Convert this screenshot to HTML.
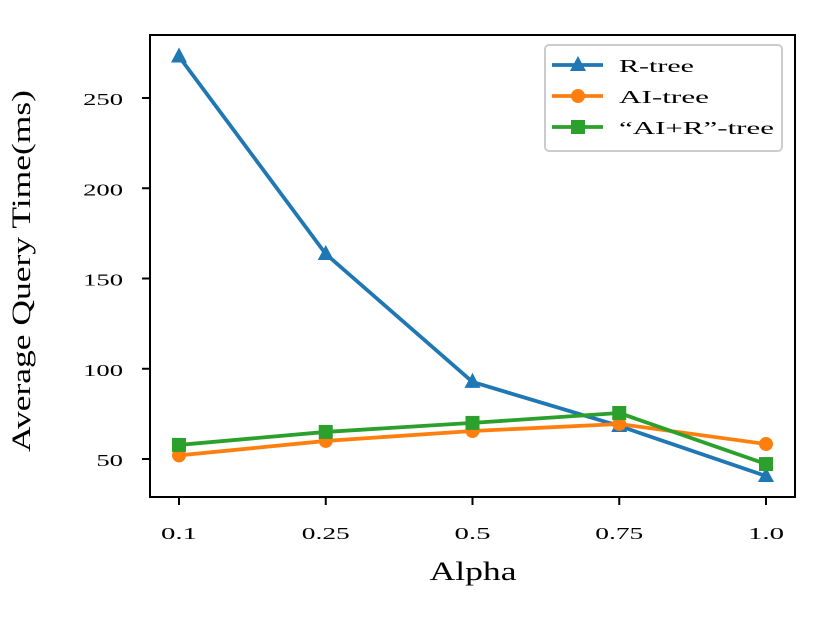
<!DOCTYPE html>
<html><head><meta charset="utf-8"><style>
body{margin:0;background:#fff;}
text{font-family:"Liberation Serif","DejaVu Serif",serif;fill:#000;}
</style></head><body>
<svg id="chart" width="831" height="623" xmlns="http://www.w3.org/2000/svg">
<rect x="0" y="0" width="831" height="623" fill="#fff"/>
<g id="plot"></g>
</svg>
<script>
const categories = ["0.1","0.25","0.5","0.75","1.0"];
const rTree = [273, 163.6, 92.7, 68.3, 40.6];
const aiTree = [52, 60, 65.5, 69.4, 58.3];
const aiRTree = [57.8, 65, 70, 75.5, 47.2];
const yTicks = [50, 100, 150, 200, 250];

const NS = "http://www.w3.org/2000/svg";
const g = document.getElementById('plot');
const L = 150, R = 795, T = 35, B = 497;
const xPos = i => 179 + i * (766 - 179) / (categories.length - 1);
const yPos = v => 459 - (v - 50) * 1.805;
function mk(tag, attrs, parent) {
  const e = document.createElementNS(NS, tag);
  for (const k in attrs) e.setAttribute(k, attrs[k]);
  (parent || g).appendChild(e);
  return e;
}
function fit(e, perChar) {
  e.setAttribute('textLength', e.textContent.length * perChar);
  e.setAttribute('lengthAdjust', 'spacingAndGlyphs');
}
categories.forEach((c, i) => {
  const x = xPos(i);
  const t = mk('line', {x1:x, x2:x, y1:B, y2:B+8, stroke:'#000', 'stroke-width':2});
  
  
  const lb = mk('text', {x:x, y:539, 'text-anchor':'middle', 'font-size':17});
  lb.textContent = c;
  fit(lb, 12);
  
  
});
yTicks.forEach(v => {
  const y = yPos(v);
  const t = mk('line', {x1:L-8, x2:L, y1:y, y2:y, stroke:'#000', 'stroke-width':2});
  
  
  const lb = mk('text', {x:123, y:y+7, 'text-anchor':'end', 'font-size':17});
  lb.textContent = v;
  fit(lb, 13.3);
  
  
});
const series = [
  {name:'r-tree', data:rTree, color:'#1f77b4', marker:'tri'},
  {name:'ai-tree', data:aiTree, color:'#ff7f0e', marker:'circ'},
  {name:'ai-r-tree', data:aiRTree, color:'#2ca02c', marker:'sq'}
];
function marker(type, x, y, color) {
  let e;
  if (type === 'tri') e = mk('polygon', {points:`${x},${y-9} ${x-8},${y+6} ${x+8},${y+6}`, fill:color});
  else if (type === 'circ') e = mk('circle', {cx:x, cy:y, r:7, fill:color});
  else e = mk('rect', {x:x-7, y:y-7, width:14, height:14, fill:color});
  return e;
}
series.forEach(s => {
  const pts = s.data.map((v, i) => xPos(i) + ',' + yPos(v)).join(' ');
  const pl = mk('polyline', {points:pts, fill:'none', stroke:s.color, 'stroke-width':3.8, 'stroke-linejoin':'round'});
  
  
  s.data.forEach((v, i) => {
    const m = marker(s.marker, xPos(i), yPos(v), s.color);
    
    
  });
});
const frame = mk('rect', {x:L, y:T, width:R-L, height:B-T, fill:'none', stroke:'#000', 'stroke-width':2});


const lg = mk('g', {});


mk('rect', {x:545, y:45, width:237, height:106, rx:4, fill:'#fff', stroke:'#ccc', 'stroke-width':2}, lg);
const labels = ['R-tree', 'AI-tree', '\u201CAI+R\u201D-tree'];
const lens = [75, 90, 155];
series.forEach((s, i) => {
  const y = 65 + i * 31;
  const ln = mk('line', {x1:552, x2:603, y1:y, y2:y, stroke:s.color, 'stroke-width':3.8}, lg);
  
  
  const m = marker(s.marker, 578, y, s.color);
  lg.appendChild(m);
  
  
  const t = mk('text', {x:619, y:y+7, 'font-size':18, textLength:lens[i], lengthAdjust:'spacingAndGlyphs'}, lg);
  t.textContent = labels[i];
  
  
});
const xt = mk('text', {x:473, y:580, 'text-anchor':'middle', 'font-size':26, textLength:87, lengthAdjust:'spacingAndGlyphs'});
xt.textContent = 'Alpha';


const yt = mk('text', {x:0, y:0, 'text-anchor':'middle', 'font-size':26, textLength:362, lengthAdjust:'spacingAndGlyphs', transform:'translate(30,271) rotate(-90)'});
yt.textContent = 'Average Query Time(ms)';


</script>
</body></html>
